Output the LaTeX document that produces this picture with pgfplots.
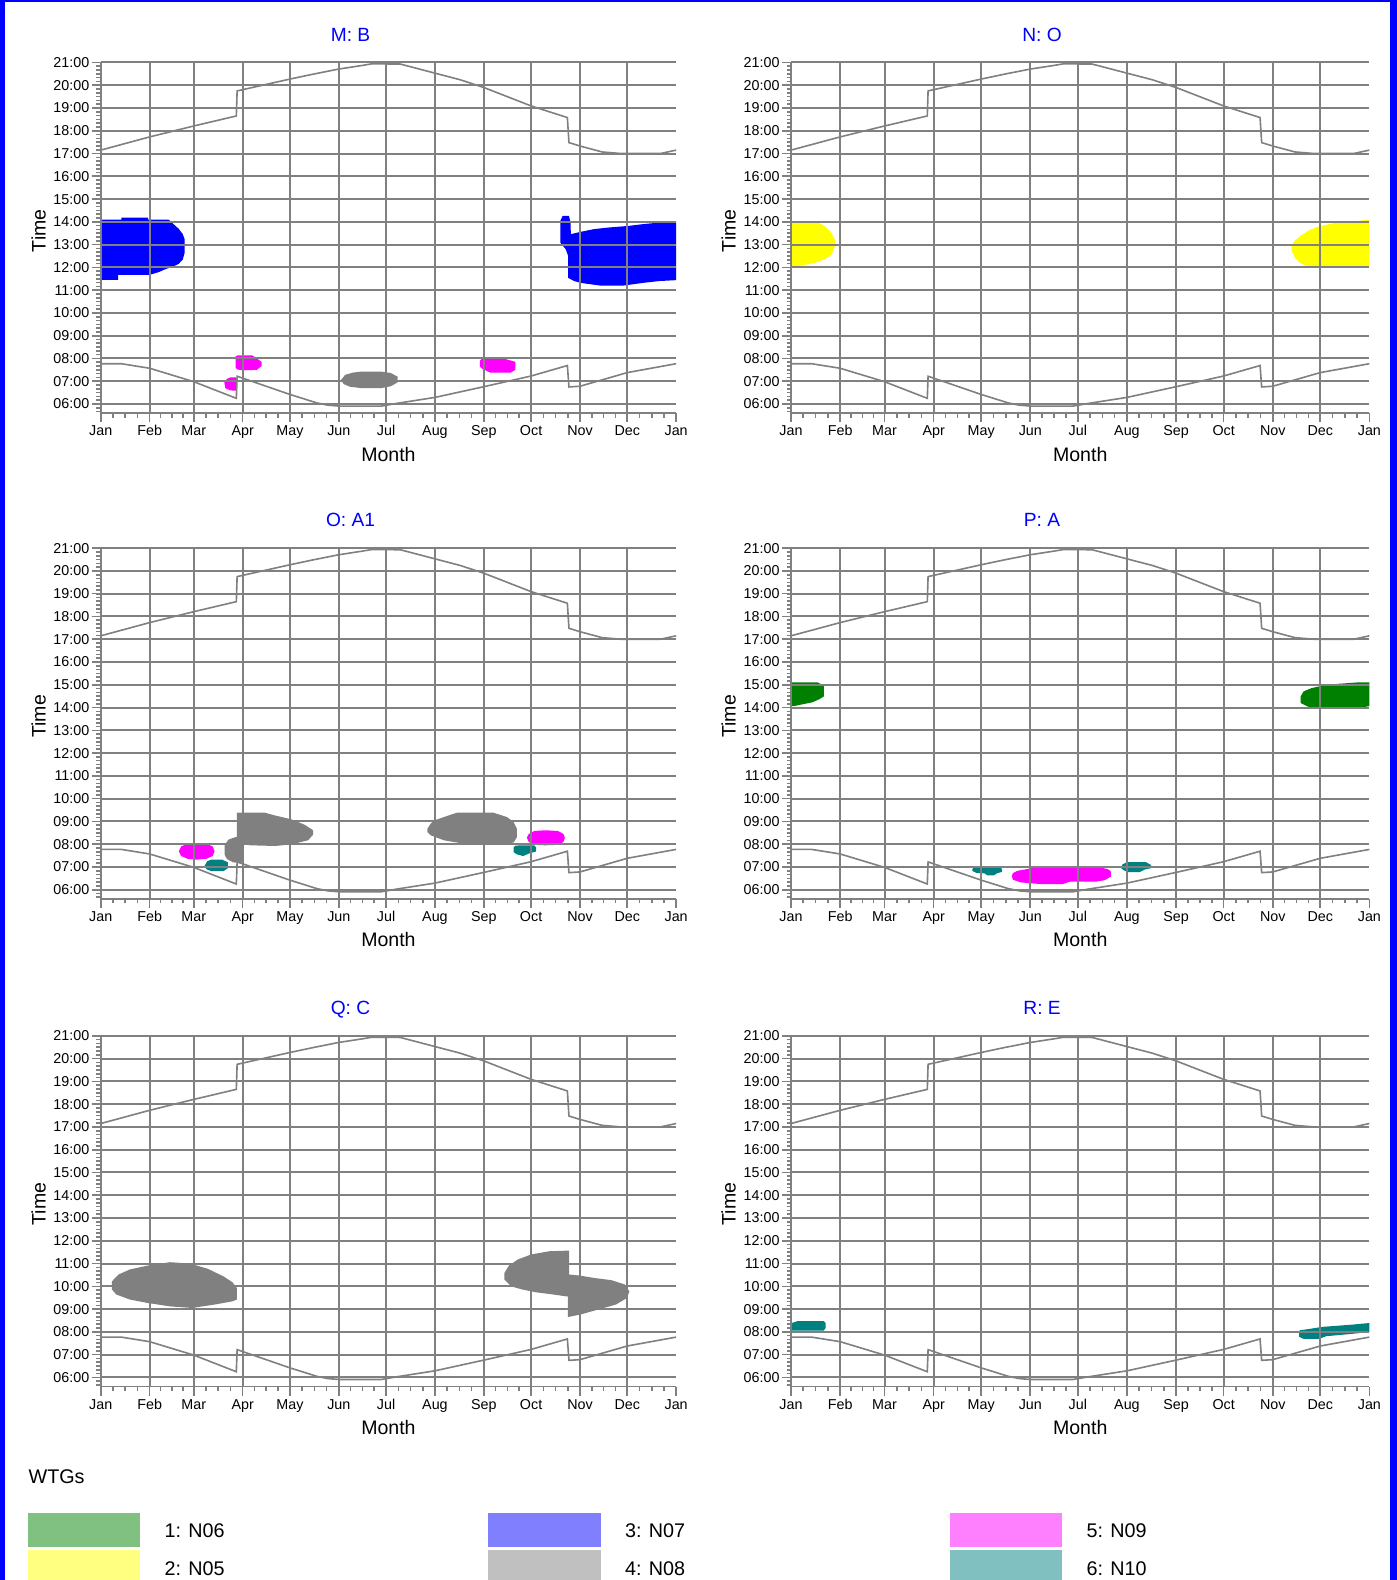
\documentclass[border=0pt]{standalone}
\usepackage{fontspec}
\setmainfont{Liberation Sans}
\usepackage{pgfplots}
\usepackage{pgfplotstable}
\pgfplotsset{compat=1.18}

\definecolor{gridgray}{RGB}{128,128,128}
\definecolor{titleblue}{RGB}{0,0,255}
% turbine colours (areas)
\definecolor{cN06}{RGB}{0,128,0}
\definecolor{cN05}{RGB}{255,255,0}
\definecolor{cN07}{RGB}{0,0,255}
\definecolor{cN08}{RGB}{128,128,128}
\definecolor{cN09}{RGB}{255,0,255}
\definecolor{cN10}{RGB}{0,128,128}
% legend swatches
\definecolor{lN06}{RGB}{128,192,128}
\definecolor{lN05}{RGB}{255,255,128}
\definecolor{lN07}{RGB}{128,128,255}
\definecolor{lN08}{RGB}{192,192,192}
\definecolor{lN09}{RGB}{255,128,255}
\definecolor{lN10}{RGB}{128,192,192}

% day of year, hour
\pgfplotstableread{
d h
0 17.15
31 17.73
59 18.21
86 18.65
86.5 19.75
120 20.27
135 20.49
151 20.71
166 20.87
172 20.94
190 20.93
212 20.53
228 20.24
243 19.90
273 19.09
296 18.58
297 17.48
304 17.33
318 17.07
330 17.00
355 17.00
365 17.15
}\sunset

\pgfplotstableread{
d h
0 7.77
13 7.77
31 7.57
59 6.98
86 6.25
86.5 7.22
120 6.42
137 6.05
144 5.95
151 5.91
178 5.91
188 6.03
212 6.29
243 6.76
273 7.23
296 7.69
297 6.75
304 6.78
334 7.38
365 7.77
}\sunrise

\pgfplotsset{
  flicker/.style={
    scale only axis, height=174pt, anchor=north west,
    xmin=0, xmax=365, ymin=5.6, ymax=21,
    axis x line=bottom, axis y line=left,
    axis line style={-, draw=gridgray, line width=0.9pt},
    xtick={0,31,59,90,120,151,181,212,243,273,304,334},
    xticklabels={Jan,Feb,Mar,Apr,May,Jun,Jul,Aug,Sep,Oct,Nov,Dec},
    extra x ticks={365}, extra x tick labels={Jan},
    extra x tick style={grid=none},
    minor xtick={7.75,15.5,23.25,38,45,52,66.75,74.5,82.25,97.5,105,112.5,
      127.75,135.5,143.25,158.5,166,173.5,188.75,196.5,204.25,219.75,227.5,235.25,
      250.5,258,265.5,280.75,288.5,296.25,311.5,319,326.5,341.75,349.5,357.25},
    ytick={6,...,21},
    yticklabels={06:00,07:00,08:00,09:00,10:00,11:00,12:00,13:00,14:00,15:00,16:00,17:00,18:00,19:00,20:00,21:00},
    minor ytick={5.66667,5.83333,...,21},
    xmajorgrids, ymajorgrids,
    major grid style={draw=gridgray, line width=1pt},
    tick align=outside,
    major tick length=4.5pt, minor tick length=2.2pt,
    tick style={draw=gridgray, line width=0.8pt},
    tick label style={font=\fontsize{7.1}{8.5}\selectfont},
    xticklabel style={text height=5.2pt, text depth=1.5pt, yshift=2pt},
    yticklabel style={inner xsep=1pt},
    xlabel={Month}, ylabel={Time},
    label style={font=\fontsize{9.7}{11}\selectfont},
    xlabel style={at={(axis description cs:0.5,-0.117)}, anchor=center},
    ylabel style={at={(axis description cs:-0.108,0.52)}, anchor=center},
    title style={at={(axis description cs:0.434,1)}, anchor=base, yshift=4.5pt,
      font=\fontsize{9.5}{11}\selectfont, text=titleblue},
    axis on top,
  },
  sun/.style={draw=gridgray, line width=0.8pt, mark=none},
  area/.style={fill=#1, draw=none, mark=none},
  legendblock/.style={
    scale only axis, width=10pt, height=10pt, hide axis, anchor=north west,
    xmin=0, xmax=1, ymin=0, ymax=1,
    legend cell align=left,
    legend style={at={(axis description cs:0,1)}, anchor=north west,
      draw=none, fill=none, inner sep=0pt, row sep=1.5pt,
      font=\fontsize{9.8}{11}\selectfont,
      nodes={yshift=-1.2pt},
      /tikz/every odd column/.append style={column sep=10pt}},
    legend image code/.code={\fill[##1] (0pt,-8.5pt) rectangle (56pt,8.5pt);},
  },
}

\begin{document}
\begin{tikzpicture}
\path[use as bounding box] (0pt,0pt) rectangle (693pt,784pt);

% ---------- M: B ----------
\begin{axis}[flicker, width=285.5pt, at={(50pt,753pt)}, title={M: B}]
\addplot[area=cN07] coordinates {(0,11.45) (11,11.45) (11,11.67) (31,11.67) (37,11.8) (41,11.92) (46,12.04) (49.5,12.16) (52,12.34) (53.2,12.64) (53.2,13.24) (52,13.46) (49.5,13.69) (46,13.91) (43,14.1) (30,14.1) (30,14.18) (13,14.18) (13,14.1) (0,14.1)} -- cycle;
\addplot[area=cN07] coordinates {(291.5,14.04) (293,14.26) (297,14.26) (298,13.97) (298.2,13.46) (304.4,13.56) (312.8,13.68) (322,13.75) (334.6,13.82) (344,13.9) (354.4,13.97) (365,14.0) (365,11.44) (354.4,11.4) (344,11.32) (331.5,11.2) (317,11.2) (304.4,11.32) (300.3,11.4) (296.5,11.54) (296.5,12.5) (295,12.79) (291.5,13.09)} -- cycle;
\addplot[area=cN09] coordinates {(85.6,7.6) (85.6,8.1) (87,8.14) (96,8.14) (99,8.0) (102,7.85) (102,7.67) (99,7.5) (90,7.48) (86.5,7.52)} -- cycle;
\addplot[area=cN09] coordinates {(78.4,6.95) (80,7.1) (82,7.17) (86,7.17) (86.2,6.58) (82,6.6) (79,6.7)} -- cycle;
\addplot[area=cN08] coordinates {(152.5,7.06) (155,7.28) (160,7.38) (165,7.42) (178,7.42) (184,7.36) (188.3,7.2) (188.3,6.95) (184,6.78) (178,6.7) (165,6.7) (158,6.76) (154,6.88)} -- cycle;
\addplot[area=cN09] coordinates {(240.5,7.9) (242,8.0) (244,8.03) (254.6,8.03) (258,7.95) (263,7.85) (263,7.5) (260,7.38) (247,7.38) (242,7.55) (240.5,7.65)} -- cycle;
\addplot[sun] table[x=d,y=h] {\sunset};
\addplot[sun] table[x=d,y=h] {\sunrise};
\end{axis}

% ---------- N: O ----------
\begin{axis}[flicker, width=287pt, at={(392.5pt,753pt)}, title={N: O}]
\addplot[area=cN05] coordinates {(0,12.05) (0,14.02) (10,14.02) (17,13.98) (21.5,13.8) (25.7,13.5) (27.8,13.2) (27.8,12.95) (25.7,12.57) (21.5,12.36) (15,12.2) (7,12.08)} -- cycle;
\addplot[area=cN05] coordinates {(365,14.1) (356.6,14.03) (344,13.96) (333.4,13.81) (327,13.63) (321.8,13.4) (317.5,13.15) (315.9,12.93) (316,12.71) (318.2,12.41) (320.7,12.22) (325,12.07) (329,12.0) (365,12.0)} -- cycle;
\addplot[sun] table[x=d,y=h] {\sunset};
\addplot[sun] table[x=d,y=h] {\sunrise};
\end{axis}

% ---------- O: A1 ----------
\begin{axis}[flicker, width=285.5pt, at={(50pt,512pt)}, title={O: A1}]
\addplot[area=cN08] coordinates {(86.3,9.38) (104.2,9.38) (110.5,9.26) (121,9.09) (129.4,8.85) (134.7,8.61) (134.7,8.42) (131.5,8.17) (121,7.99) (110.5,7.92) (95,7.95) (90,8.0) (90,7.17) (84,7.2) (80,7.35) (78.5,7.55) (78.5,7.95) (81,8.2) (85,8.3) (86.3,8.32)} -- cycle;
\addplot[area=cN08] coordinates {(207.2,8.68) (209.3,8.9) (211.4,9.04) (217.7,9.19) (224,9.34) (226.1,9.38) (249.2,9.38) (257.7,9.19) (261.9,8.97) (264,8.68) (264,8.31) (261.9,8.07) (251.3,7.98) (230.3,8.02) (217.7,8.17) (209.3,8.39) (207.2,8.53)} -- cycle;
\addplot[area=cN09] coordinates {(49.5,7.69) (51,7.9) (55,8.02) (61,8.05) (67,8.02) (71,7.9) (72.2,7.69) (71,7.48) (67,7.36) (61,7.32) (55,7.36) (51,7.48)} -- cycle;
\addplot[area=cN10] coordinates {(65.9,7.05) (67.5,7.25) (70,7.32) (77,7.32) (80.7,7.2) (80.7,6.95) (78,6.82) (70,6.82) (67,6.9)} -- cycle;
\addplot[area=cN09] coordinates {(270.3,8.28) (271.5,8.45) (275,8.58) (282,8.61) (290,8.58) (293.5,8.45) (294.4,8.28) (293.5,8.1) (290,7.97) (282,7.95) (275,7.97) (271.5,8.1)} -- cycle;
\addplot[area=cN10] coordinates {(261.9,7.85) (263,7.93) (266,7.95) (275,7.95) (276.2,7.85) (276.2,7.68) (272,7.6) (268,7.48) (264,7.55) (261.9,7.65)} -- cycle;
\addplot[sun] table[x=d,y=h] {\sunset};
\addplot[sun] table[x=d,y=h] {\sunrise};
\end{axis}

% ---------- P: A ----------
\begin{axis}[flicker, width=287pt, at={(392.5pt,512pt)}, title={P: A}]
\addplot[area=cN06] coordinates {(0,14.06) (0,15.1) (17,15.1) (20.7,14.95) (20.7,14.49) (18.3,14.38) (13.5,14.23) (6.4,14.13) (1.7,14.06)} -- cycle;
\addplot[area=cN06] coordinates {(365,15.1) (356.8,15.1) (344.9,15.04) (335.4,14.96) (328.3,14.85) (323.5,14.71) (321.6,14.49) (321.6,14.2) (324.7,14.09) (329.5,13.94) (354.4,13.94) (365,14.06)} -- cycle;
\addplot[area=cN10] coordinates {(114.5,6.9) (115.5,7.02) (131,7.02) (133,6.92) (133,6.78) (130,6.72) (128,6.63) (124,6.63) (122,6.72) (117,6.74) (114.5,6.82)} -- cycle;
\addplot[area=cN09] coordinates {(139.4,6.6) (140,6.73) (143,6.83) (150.1,6.92) (157.2,7.02) (192.9,7.02) (200,6.9) (201.9,6.8) (201.9,6.58) (198,6.42) (192.9,6.36) (176.2,6.36) (171.5,6.25) (157.2,6.25) (145,6.32) (140,6.44)} -- cycle;
\addplot[area=cN10] coordinates {(208.3,6.95) (209,7.1) (212,7.21) (224,7.21) (227.3,7.08) (227.3,6.95) (223,6.88) (220,6.77) (213,6.77) (210,6.85)} -- cycle;
\addplot[sun] table[x=d,y=h] {\sunset};
\addplot[sun] table[x=d,y=h] {\sunrise};
\end{axis}

% ---------- Q: C ----------
\begin{axis}[flicker, width=285.5pt, at={(50pt,270pt)}, title={Q: C}]
\addplot[area=cN08] coordinates {(7.1,9.86) (7.1,10.22) (11.3,10.52) (18.4,10.74) (29.7,10.91) (43.9,11.06) (56.6,11.0) (67.9,10.77) (77.8,10.44) (83.5,10.18) (86.3,9.93) (86.3,9.42) (83.5,9.34) (72.2,9.2) (58,9.05) (43.9,9.12) (29.7,9.27) (18.4,9.42) (9.9,9.64)} -- cycle;
\addplot[area=cN08] coordinates {(297.1,11.57) (284.4,11.54) (273.1,11.4) (264.6,11.18) (258.9,10.91) (256.1,10.59) (256.1,10.3) (260.3,10.0) (267.4,9.86) (275.9,9.74) (287.2,9.64) (295.1,9.56) (296.3,9.56) (296.3,8.65) (304.2,8.76) (315.5,8.98) (326.8,9.2) (333.9,9.49) (335.3,9.78) (332.5,10.08) (324,10.27) (312.7,10.37) (304.2,10.47) (297.1,10.52)} -- cycle;
\addplot[sun] table[x=d,y=h] {\sunset};
\addplot[sun] table[x=d,y=h] {\sunrise};
\end{axis}

% ---------- R: E ----------
\begin{axis}[flicker, width=287pt, at={(392.5pt,270pt)}, title={R: E}]
\addplot[area=cN10] coordinates {(0.5,8.06) (0.5,8.39) (4,8.47) (20.7,8.47) (21.9,8.39) (21.9,8.18) (20.7,8.06)} -- cycle;
\addplot[area=cN10] coordinates {(365,8.39) (354.4,8.32) (335.4,8.22) (327.1,8.13) (321.1,8.07) (320.7,8.03) (320.7,7.78) (323.5,7.69) (333,7.69) (337.8,7.81) (352,7.9) (365,7.99)} -- cycle;
\addplot[sun] table[x=d,y=h] {\sunset};
\addplot[sun] table[x=d,y=h] {\sunrise};
\end{axis}

% ---------- legend ----------
\node[anchor=west, inner sep=0pt, font=\fontsize{9.8}{11}\selectfont] at (14pt,51.5pt) {WTGs};
\begin{axis}[legendblock, at={(13.5pt,33.5pt)}]
\addlegendimage{fill=lN06, draw=none}\addlegendentry{1: N06}
\addlegendimage{fill=lN05, draw=none}\addlegendentry{2: N05}
\end{axis}
\begin{axis}[legendblock, at={(242pt,33.5pt)}]
\addlegendimage{fill=lN07, draw=none}\addlegendentry{3: N07}
\addlegendimage{fill=lN08, draw=none}\addlegendentry{4: N08}
\end{axis}
\begin{axis}[legendblock, at={(471pt,33.5pt)}]
\addlegendimage{fill=lN09, draw=none}\addlegendentry{5: N09}
\addlegendimage{fill=lN10, draw=none}\addlegendentry{6: N10}
\end{axis}

% frame
\fill[titleblue] (0pt,0pt) rectangle (2.5pt,784pt);
\fill[titleblue] (0pt,782.8pt) rectangle (693pt,784pt);
\fill[titleblue] (689.5pt,0pt) rectangle (693pt,784pt);
\end{tikzpicture}
\end{document}
